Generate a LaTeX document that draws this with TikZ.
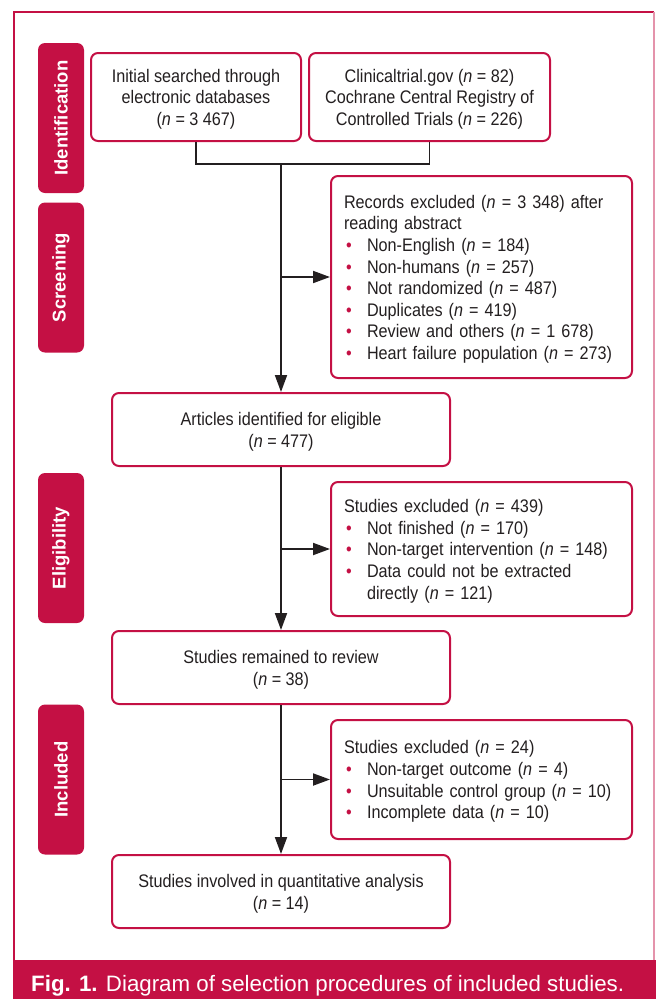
\documentclass[tikz,border=0pt]{standalone}
\usepackage{fontspec}
\setmainfont{Liberation Sans}[FakeStretch=0.89]
\newfontfamily\labfont{Liberation Sans}
\usetikzlibrary{arrows.meta}
\definecolor{crim}{RGB}{196,16,68}
\definecolor{ink}{RGB}{35,31,32}
\newcommand\bul{\makebox[23pt][l]{\hspace{2pt}\textcolor{crim}{\textbullet}}}
\newcommand\nn{\textit{n}}
\newcommand\tp{\rule{0pt}{17.5pt}}
\begin{document}
\begin{tikzpicture}[x=1pt,y=-1pt,
  box/.style={draw=crim, line width=2pt, rounded corners=7pt, fill=white, inner sep=0pt, align=center, text=ink, font=\fontsize{18.2}{21.6}\selectfont},
  lbox/.style={box, align=left, inner xsep=13pt, text width=#1},
  phase/.style={fill=crim, rounded corners=7pt, minimum width=150pt, minimum height=46pt, rotate=90, text=white, font=\labfont\bfseries\fontsize{18.5}{22}\selectfont, inner sep=0pt},
  arr/.style={-{Triangle[length=17pt,width=12pt]}, line width=1.9pt, draw=ink},
  conn/.style={line width=1.9pt, draw=ink}
]
\useasboundingbox (0,0) rectangle (656,999);
% frame and caption band
\draw[crim, line width=1.5pt] (14,960) -- (14,12) -- (654,12);
\draw[crim!45, line width=1.5pt] (654,12) -- (654,960);
\fill[crim] (13.25,960) rectangle (656,999);
\node[anchor=base west, text=white, inner sep=0pt, font=\labfont\fontsize{22.3}{26}\selectfont] (cap) at (31,991) {\textbf{Fig. 1.} Diagram of selection procedures of included studies.};
% phase labels
\node[phase] (pid) at (61,118) {Identification};
\node[phase] (pscr) at (61,277.5) {Screening};
\node[phase] (peli) at (61,548) {Eligibility};
\node[phase] (pinc) at (61,779.5) {Included};
% boxes
\node[box, minimum width=210pt, minimum height=88pt] (b1) at (196,97) {\tp Initial searched through\\electronic databases\\(\nn{} = 3 467)};
\node[box, minimum width=241pt, minimum height=88pt] (b2) at (429.5,97) {\tp Clinicaltrial.gov (\nn{} = 82)\\Cochrane Central Registry of\\Controlled Trials (\nn{} = 226)};
\node[lbox=275pt, minimum width=301pt, minimum height=202pt] (rec) at (481.5,277) {\tp Records excluded (\nn{} = 3 348) after\\reading abstract\\
\bul Non-English (\nn{} = 184)\\
\bul Non-humans (\nn{} = 257)\\
\bul Not randomized (\nn{} = 487)\\
\bul Duplicates (\nn{} = 419)\\
\bul Review and others (\nn{} = 1 678)\\
\bul Heart failure population (\nn{} = 273)};
\node[box, minimum width=338pt, minimum height=73pt] (art) at (281,429.5) {\tp Articles identified for eligible\\(\nn{} = 477)};
\node[lbox=275pt, minimum width=301pt, minimum height=134pt] (ex1) at (481.5,549) {\tp Studies excluded (\nn{} = 439)\\
\bul Not finished (\nn{} = 170)\\
\bul Non-target intervention (\nn{} = 148)\\
\bul Data could not be extracted\\
\hspace*{23pt}directly (\nn{} = 121)};
\node[box, minimum width=338pt, minimum height=73pt] (rem) at (281,667.5) {\tp Studies remained to review\\(\nn{} = 38)};
\node[lbox=275pt, minimum width=301pt, minimum height=119pt] (ex2) at (481.5,779.5) {\tp Studies excluded (\nn{} = 24)\\
\bul Non-target outcome (\nn{} = 4)\\
\bul Unsuitable control group (\nn{} = 10)\\
\bul Incomplete data (\nn{} = 10)};
\node[box, minimum width=338pt, minimum height=73pt] (fin) at (281,891.5) {\tp Studies involved in quantitative analysis\\(\nn{} = 14)};
% connectors
\coordinate (j1) at (281,164);
\draw[conn] (b1.south) |- (j1) -| (b2.south);
\draw[arr] (j1) -- (art.north);
\draw[arr] (j1 |- rec.west) -- (rec.west);
\draw[arr] (art.south) -- (rem.north);
\draw[arr] (art.south |- ex1.west) -- (ex1.west);
\draw[arr] (rem.south) -- (fin.north);
\draw[arr] (rem.south |- ex2.west) -- (ex2.west);
\end{tikzpicture}
\end{document}
